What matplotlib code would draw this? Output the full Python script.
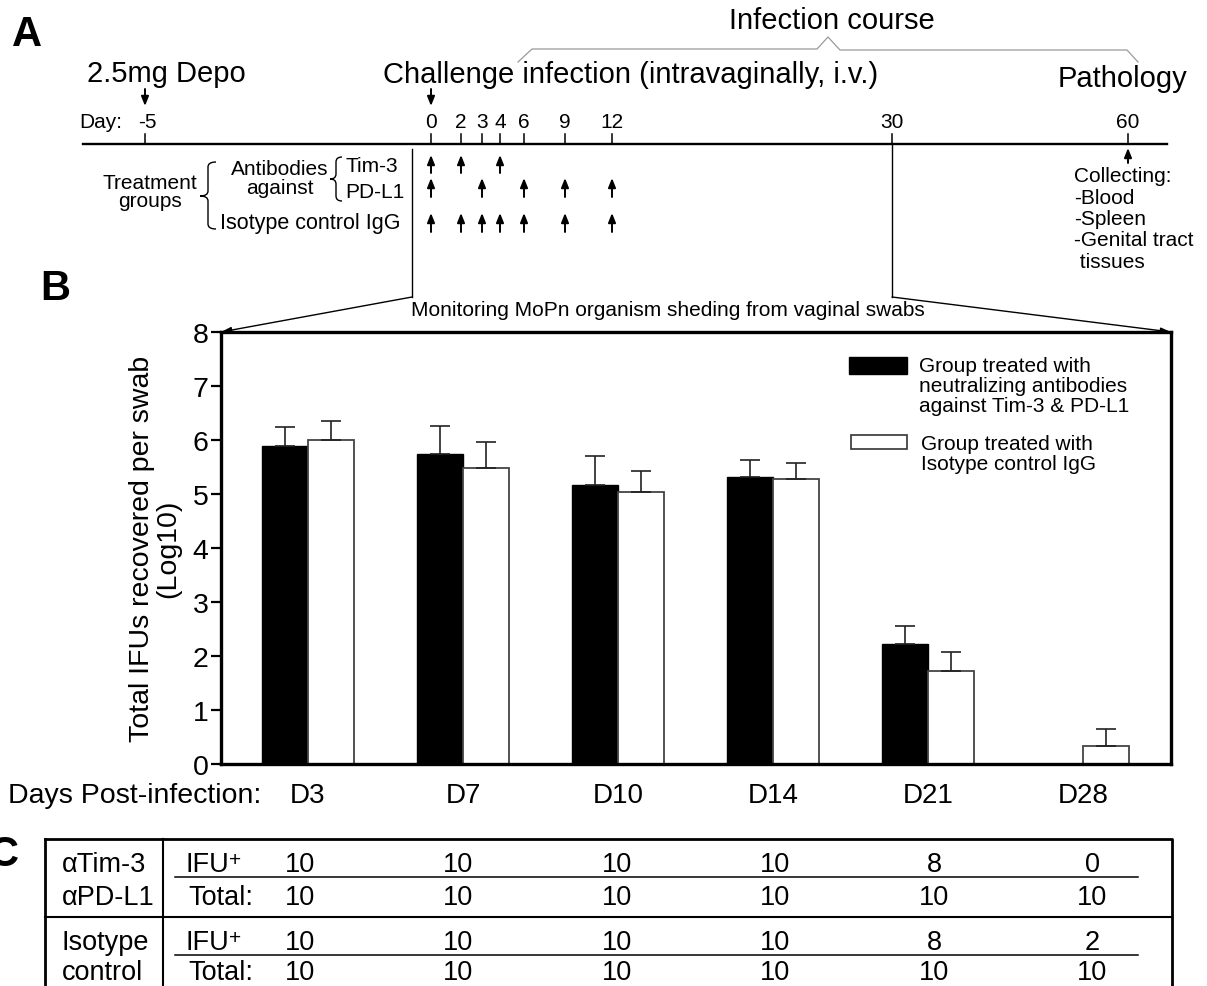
import matplotlib
matplotlib.use("Agg")
import matplotlib.pyplot as plt
from matplotlib.patches import Rectangle, PathPatch, ConnectionPatch
from matplotlib.path import Path
import numpy as np

plt.rcParams['font.family'] = ['Liberation Sans', 'DejaVu Sans']

# ---- panel A: schedule ----
tl_days = [-5, 0, 2, 3, 4, 6, 9, 12, 30, 60]
tim3_days = [0, 2, 4]
pdl1_days = [0, 3, 6, 9, 12]
iso_days = [0, 2, 3, 4, 6, 9, 12]
collect_lines = ["Collecting:", "-Blood", "-Spleen", "-Genital tract", " tissues"]

# ---- panel B: log10 IFU per swab ----
days = ["D3", "D7", "D10", "D14", "D21", "D28"]
anti_mean = [5.89, 5.74, 5.17, 5.31, 2.22, 0.0]
anti_err = [0.35, 0.52, 0.53, 0.32, 0.33, 0.0]
iso_mean = [6.00, 5.49, 5.04, 5.28, 1.72, 0.33]
iso_err = [0.35, 0.48, 0.39, 0.30, 0.36, 0.31]

# ---- panel C: positive / total ----
anti_pos = [10, 10, 10, 10, 8, 0]
anti_tot = [10, 10, 10, 10, 10, 10]
iso_pos = [10, 10, 10, 10, 8, 2]
iso_tot = [10, 10, 10, 10, 10, 10]

W, H = 1207, 987
fig = plt.figure(figsize=(W / 100, H / 100), dpi=100)
fig.patch.set_facecolor('white')

# bar chart axes (pixel box 221..1171, 333..765)
ax = fig.add_axes([221 / W, 1 - 765 / H, 950 / W, 432 / H])
x = np.arange(len(days))
bw = 0.294
ax.bar(x - bw / 2, anti_mean, bw, color='black', edgecolor='black', lw=1, zorder=2)
ax.bar(x + bw / 2, iso_mean, bw, color='white', edgecolor='#444444', lw=1.3, zorder=2)
m = np.array(anti_mean) > 0
ax.errorbar((x - bw / 2)[m], np.array(anti_mean)[m],
            yerr=[np.zeros(m.sum()), np.array(anti_err)[m]],
            fmt='none', ecolor='#222222', elinewidth=1.2, capsize=7, capthick=1.2, zorder=3)
ax.errorbar(x + bw / 2, iso_mean, yerr=[np.zeros(len(x)), iso_err],
            fmt='none', ecolor='#222222', elinewidth=1.2, capsize=7, capthick=1.2, zorder=3)
ax.set_xlim(-0.561, 5.568)
ax.set_ylim(0, 8)
ax.set_yticks(range(9))
ax.set_xticks(x)
ax.set_xticklabels(days, fontsize=20)
ax.tick_params(axis='x', length=0, pad=13)
ax.tick_params(axis='y', labelsize=20.5, length=7, width=1.6, pad=2)
for s in ax.spines.values():
    s.set_linewidth(2.4)
ax.set_ylabel("Total IFUs recovered per swab\n(Log10)", fontsize=20.5, labelpad=8,
              linespacing=1.05)

# overlay in pixel coordinates
ov = fig.add_axes([0, 0, 1, 1])
ov.set_xlim(0, W)
ov.set_ylim(H, 0)
ov.axis('off')
ov.patch.set_alpha(0)


def t(xp, yp, s, size, ha='left', **kw):
    ov.text(xp, yp, s, fontsize=size, ha=ha, va='baseline', **kw)


def arrow(xp, y_tail, y_tip, lw=1.4):
    ov.annotate('', xy=(xp, y_tip), xytext=(xp, y_tail),
                arrowprops=dict(arrowstyle='-|>,head_length=0.55,head_width=0.22',
                                color='black', lw=lw, shrinkA=0, shrinkB=0))


def brace(x_back, x_tip, y0, y1, ymid, tip=7, r=5, lw=1.0):
    xr = x_back + tip
    verts = [(xr, y0), (x_back, y0), (x_back, y0 + r), (x_back, ymid - r),
             (x_back, ymid), (x_tip, ymid), (x_back, ymid), (x_back, ymid + r),
             (x_back, y1 - r), (x_back, y1), (xr, y1)]
    codes = [Path.MOVETO, Path.CURVE3, Path.CURVE3, Path.LINETO,
             Path.CURVE3, Path.CURVE3, Path.CURVE3, Path.CURVE3,
             Path.LINETO, Path.CURVE3, Path.CURVE3]
    ov.add_patch(PathPatch(Path(verts, codes), fill=False, lw=lw, color='black'))


# ---- A ----
t(12, 46, "A", 30, weight='bold')
t(832, 29, "Infection course", 21, ha='center')
ov.plot([518, 532, 817, 828, 840, 1127, 1138], [63, 50, 50, 38, 51, 51, 63],
        color='#9a9a9a', lw=0.9)
t(87, 82, "2.5mg Depo", 21)
t(383, 83, "Challenge infection (intravaginally, i.v.)", 21)
t(1058, 87, "Pathology", 21)

day_px = dict(zip(tl_days, [145, 431, 461, 482, 500, 524, 565, 612, 892, 1128]))
tl_y = 145
ov.plot([83, 1167], [tl_y, tl_y], color='black', lw=1.7)
t(79, 128, "Day:", 15)
for d in tl_days:
    ov.plot([day_px[d], day_px[d]], [135, tl_y], color='black', lw=1.1)
    t(day_px[d] + (2 if d == -5 else 0), 128, str(d), 15, ha='center')
arrow(day_px[-5], 90, 107)
arrow(day_px[0], 90, 107)

for dd, (ytail, ytip) in zip([tim3_days, pdl1_days, iso_days],
                            [(174, 156), (198, 179), (233, 214)]):
    for d in dd:
        arrow(day_px[d], ytail, ytip)

t(150, 189, "Treatment", 15, ha='center')
t(150, 207, "groups", 15, ha='center')
brace(208, 200, 163, 230, 197, tip=8)
t(280, 175, "Antibodies", 15, ha='center')
t(280, 194, "against", 15, ha='center')
brace(336, 330, 158, 202, 180, tip=6)
t(345, 172, "Tim-3", 15)
t(345, 198, "PD-L1", 15)
t(220, 229, "Isotype control IgG", 15.5)

arrow(day_px[60], 164, 149)
for i, line in enumerate(collect_lines):
    t(1074, 182 + 21.5 * i, line, 15)

# links from schedule to panel B
elbow = 298
ov.plot([412, 412], [150, elbow], color='black', lw=1.0)
ov.plot([day_px[30], day_px[30]], [tl_y, elbow], color='black', lw=1.0)
for xp, corner in [(412, (0, 1)), (day_px[30], (1, 1))]:
    con = ConnectionPatch(xyA=(xp, elbow), coordsA=ov.transData,
                          xyB=corner, coordsB=ax.transAxes,
                          arrowstyle='-|>,head_length=0.6,head_width=0.18',
                          color='black', lw=1.0, shrinkA=0, shrinkB=0)
    fig.add_artist(con)

# ---- B ----
t(40, 300, "B", 30, weight='bold')
t(668, 316, "Monitoring MoPn organism sheding from vaginal swabs", 15, ha='center')
t(8, 803, "Days Post-infection:", 20.5)

# legend (drawn by hand so the box sits on the first text line)
ov.add_patch(Rectangle((849, 358), 58, 17, facecolor='black', edgecolor='black', lw=1))
ov.add_patch(Rectangle((851, 436), 56, 14, facecolor='white', edgecolor='#333333', lw=1.2))
for i, line in enumerate(["Group treated with", "neutralizing antibodies",
                          "against Tim-3 & PD-L1"]):
    t(919, 372 + 20 * i, line, 15)
for i, line in enumerate(["Group treated with", "Isotype control IgG"]):
    t(921, 450 + 20 * i, line, 15)

# ---- C ----
t(-12, 866, "C", 30, weight='bold')
tb_l, tb_r, tb_t, tb_b = 45, 1172, 840, 1000
ov.plot([tb_l, tb_r, tb_r], [tb_t, tb_t, tb_b], color='black', lw=2.0)
ov.plot([tb_l, tb_l], [tb_t, tb_b], color='black', lw=2.0)
ov.plot([163, 163], [tb_t, tb_b], color='black', lw=1.5)
ov.plot([tb_l, tb_r], [918, 918], color='black', lw=1.5)
col_px = [300, 458, 617, 775, 934, 1092]
for (lab1, lab2), pos, tot, (y1, y2) in zip(
        [("\u03b1Tim-3", "\u03b1PD-L1"), ("Isotype", "control")],
        [anti_pos, iso_pos], [anti_tot, iso_tot], [(872, 905), (950, 980)]):
    t(62, y1, lab1, 19.5)
    t(62, y2, lab2, 19.5)
    t(185, y1, "IFU", 19.5)
    t(229, y1 - 6, "+", 15)
    t(188, y2, "Total:", 19.5)
    ov.plot([175, 1138], [y1 + 6, y1 + 6], color='black', lw=1.1)
    for cx, p, n in zip(col_px, pos, tot):
        t(cx, y1, str(p), 19.5, ha='center')
        t(cx, y2, str(n), 19.5, ha='center')

fig.savefig("out.png", dpi=100)
